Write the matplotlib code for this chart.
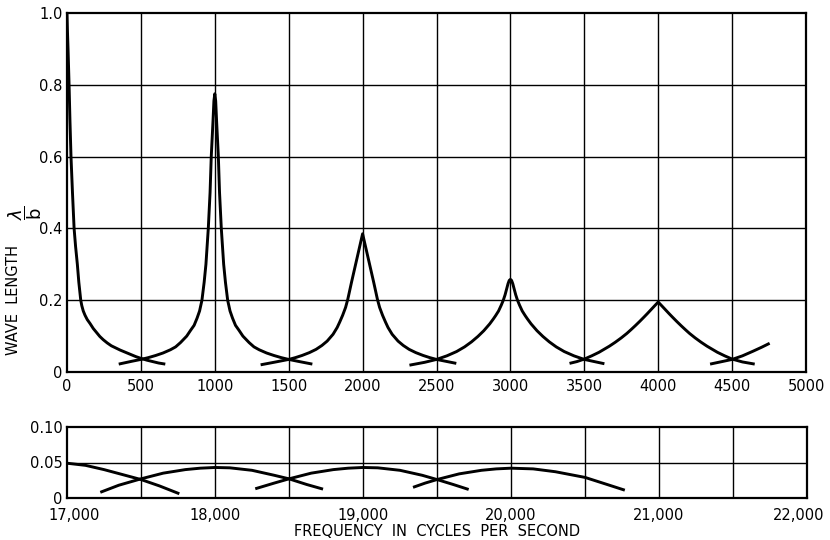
import matplotlib
matplotlib.use("Agg")
import matplotlib.pyplot as plt
from matplotlib.transforms import ScaledTranslation

# ---------------- data ----------------
# Upper panel: frequency (c/s) vs wave length lambda/b, one branch per resonance
b0_f = [0, 3, 7, 14, 20, 27, 37, 48, 58, 70, 80, 93, 100, 110, 122, 137, 156, 178, 200, 222,
        245, 272, 300, 330, 360, 395, 430, 465, 500, 540, 580, 620, 665]
b0_v = [1.0, 0.95, 0.9, 0.8, 0.7, 0.6, 0.5, 0.4, 0.35, 0.3, 0.25, 0.2, 0.185, 0.170, 0.158, 0.146, 0.135, 0.121, 0.110, 0.099,
        0.090, 0.081, 0.073, 0.067, 0.061, 0.055, 0.049, 0.043, 0.038, 0.033, 0.029, 0.025, 0.022]

b1_f = [350, 440, 500, 550, 600, 650, 700, 735, 768, 810, 836, 860, 880, 897, 913, 928, 940, 956, 968, 976, 988, 994,
        1000,
        1006, 1012, 1024, 1032, 1044, 1060, 1072, 1087, 1103, 1120, 1140, 1164, 1190, 1232, 1265, 1300, 1350, 1400, 1450, 1500, 1560, 1660]
b1_v = [0.022, 0.030, 0.035, 0.040, 0.046, 0.053, 0.062, 0.070, 0.082, 0.100, 0.116, 0.130, 0.150, 0.170, 0.200, 0.250, 0.300, 0.400, 0.500, 0.600, 0.700, 0.755,
        0.775,
        0.755, 0.700, 0.600, 0.500, 0.400, 0.300, 0.250, 0.200, 0.170, 0.150, 0.130, 0.116, 0.100, 0.082, 0.070, 0.062, 0.053, 0.046, 0.040, 0.035, 0.030, 0.022]

b2_f = [1310, 1400, 1500, 1545, 1590, 1640, 1685, 1725, 1760, 1800, 1828, 1845, 1865, 1885, 1900, 1925, 1950, 1975, 1990,
        2000,
        2010, 2025, 2050, 2075, 2100, 2115, 2135, 2155, 2172, 2200, 2240, 2275, 2315, 2360, 2410, 2455, 2500, 2634]
b2_v = [0.020, 0.027, 0.035, 0.040, 0.046, 0.054, 0.063, 0.074, 0.086, 0.105, 0.124, 0.139, 0.158, 0.180, 0.203, 0.250, 0.295, 0.340, 0.367,
        0.385,
        0.367, 0.340, 0.295, 0.250, 0.203, 0.180, 0.158, 0.139, 0.124, 0.105, 0.086, 0.074, 0.063, 0.054, 0.046, 0.040, 0.035, 0.024]

b3_f = [2317, 2420, 2500, 2570, 2636, 2690, 2737, 2780, 2820, 2860, 2885, 2900, 2920, 2938, 2952, 2964, 2975, 2984, 2992,
        3000,
        3008, 3016, 3025, 3036, 3048, 3062, 3080, 3100, 3115, 3140, 3180, 3220, 3263, 3310, 3364, 3430, 3500, 3636]
b3_v = [0.019, 0.027, 0.035, 0.045, 0.057, 0.070, 0.084, 0.099, 0.115, 0.134, 0.148, 0.157, 0.170, 0.186, 0.200, 0.215, 0.232, 0.246, 0.255,
        0.258,
        0.255, 0.246, 0.232, 0.215, 0.200, 0.186, 0.170, 0.157, 0.148, 0.134, 0.115, 0.099, 0.084, 0.070, 0.057, 0.045, 0.035, 0.023]

b4_f = [3400, 3450, 3500, 3550, 3600, 3637, 3670, 3710, 3750, 3788, 3815, 3845, 3875, 3905, 3925, 3950, 3975, 3990,
        4000,
        4010, 4025, 4050, 4075, 4095, 4125, 4155, 4185, 4212, 4250, 4290, 4330, 4363, 4400, 4450, 4500, 4570, 4653]
b4_v = [0.024, 0.029, 0.036, 0.045, 0.055, 0.064, 0.072, 0.083, 0.095, 0.1075, 0.1175, 0.129, 0.141, 0.1535, 0.162, 0.173, 0.184, 0.1905,
        0.195,
        0.1905, 0.184, 0.173, 0.162, 0.1535, 0.141, 0.129, 0.1175, 0.1075, 0.095, 0.083, 0.072, 0.064, 0.055, 0.045, 0.036, 0.028, 0.022]

b5_f = [4351, 4420, 4500, 4570, 4642, 4700, 4754]
b5_v = [0.022, 0.028, 0.035, 0.045, 0.058, 0.069, 0.080]

top_branches = [(b0_f, b0_v), (b1_f, b1_v), (b2_f, b2_v), (b3_f, b3_v), (b4_f, b4_v), (b5_f, b5_v)]

top_xticks = [0, 500, 1000, 1500, 2000, 2500, 3000, 3500, 4000, 4500, 5000]
top_xlabels = ["0", "500", "1000", "1500", "2000", "2500", "3000", "3500", "4000", "4500", "5000"]
top_yticks = [0, 0.2, 0.4, 0.6, 0.8, 1.0]
top_ylabels = ["0", "0.2", "0.4", "0.6", "0.8", "1.0"]

# Lower panel: 17,000 - 22,000 c/s
l1_f = [17000, 17125, 17250, 17375, 17500, 17625, 17759]
l1_v = [0.049, 0.046, 0.040, 0.033, 0.026, 0.017, 0.006]
l2_f = [17225, 17350, 17500, 17650, 17800, 17900, 18000, 18100, 18250, 18400, 18500, 18620, 18730]
l2_v = [0.008, 0.018, 0.027, 0.035, 0.040, 0.042, 0.043, 0.0425, 0.039, 0.032, 0.027, 0.019, 0.0125]
l3_f = [18272, 18400, 18500, 18650, 18800, 18900, 19000, 19100, 19250, 19400, 19500, 19610, 19714]
l3_v = [0.013, 0.021, 0.027, 0.035, 0.040, 0.042, 0.043, 0.0425, 0.039, 0.032, 0.026, 0.019, 0.012]
l4_f = [19338, 19420, 19500, 19650, 19800, 19900, 20000, 20150, 20300, 20500, 20650, 20769]
l4_v = [0.015, 0.021, 0.026, 0.034, 0.039, 0.041, 0.042, 0.041, 0.037, 0.029, 0.019, 0.011]

low_branches = [(l1_f, l1_v), (l2_f, l2_v), (l3_f, l3_v), (l4_f, l4_v)]

low_grid_x = [17500, 18000, 18500, 19000, 19500, 20000, 20500, 21000, 21500]
low_xticks = [17000, 18000, 19000, 20000, 21000, 22000]
low_xlabels = ["17,000", "18,000", "19,000", "20,000", "21,000", "22,000"]
low_yticks = [0, 0.05, 0.10]
low_ylabels = ["0", "0.05", "0.10"]

# ---------------- drawing ----------------
plt.rcParams["font.family"] = ["DejaVu Sans"]
fig = plt.figure(figsize=(8.3, 5.4), dpi=100)
fig.patch.set_facecolor("white")

W, H = 830.0, 540.0
ax = fig.add_axes([67 / W, 1 - 372 / H, (806 - 67) / W, (372 - 13) / H])
ax2 = fig.add_axes([67 / W, 1 - 498 / H, (807 - 67) / W, (498 - 427) / H])

curve_kw = dict(color="black", lw=2.1, solid_capstyle="butt", solid_joinstyle="round", zorder=3)
grid_kw = dict(color="black", lw=1.0, zorder=1)

# upper panel
for fx, vy in top_branches:
    ax.plot(fx, vy, **curve_kw)
for x in top_xticks[1:-1]:
    ax.axvline(x, **grid_kw)
for y in top_yticks[1:-1]:
    ax.axhline(y, **grid_kw)
ax.set_xlim(0, 5000)
ax.set_ylim(0, 1.0)
ax.set_xticks(top_xticks)
ax.set_xticklabels(top_xlabels)
ax.set_yticks(top_yticks)
ax.set_yticklabels(top_ylabels)

# lower panel
for fx, vy in low_branches:
    ax2.plot(fx, vy, **curve_kw)
for x in low_grid_x:
    ax2.axvline(x, **grid_kw)
ax2.axhline(0.05, **grid_kw)
ax2.set_xlim(17000, 22000)
ax2.set_ylim(0, 0.10)
ax2.set_xticks(low_xticks)
ax2.set_xticklabels(low_xlabels)
ax2.set_yticks(low_yticks)
ax2.set_yticklabels(low_ylabels)

for a in (ax, ax2):
    for s in a.spines.values():
        s.set_linewidth(1.6)
        s.set_color("black")
    a.tick_params(axis="both", length=0, labelsize=10.5, colors="black")
    a.tick_params(axis="y", pad=3)
ax.tick_params(axis="x", pad=5)
ax2.tick_params(axis="x", pad=7)

# nudge first / last lower-panel labels inward, as in the reference
xl = ax2.get_xticklabels()
xl[0].set_transform(xl[0].get_transform() + ScaledTranslation(7 / 100, 0, fig.dpi_scale_trans))
xl[-1].set_transform(xl[-1].get_transform() + ScaledTranslation(-8 / 100, 0, fig.dpi_scale_trans))

ax2.set_xlabel("FREQUENCY  IN  CYCLES  PER  SECOND", fontsize=10.5, labelpad=1)

fig.text(14 / W, 1 - 300 / H, "WAVE  LENGTH", rotation=90,
         fontsize=10.5, ha="center", va="center")
fig.text(25 / W, 1 - 213 / H, r"$\dfrac{\lambda}{\mathrm{b}}$", rotation=90,
         fontsize=13, ha="center", va="center")

fig.savefig("out.png", dpi=100, facecolor="white")
